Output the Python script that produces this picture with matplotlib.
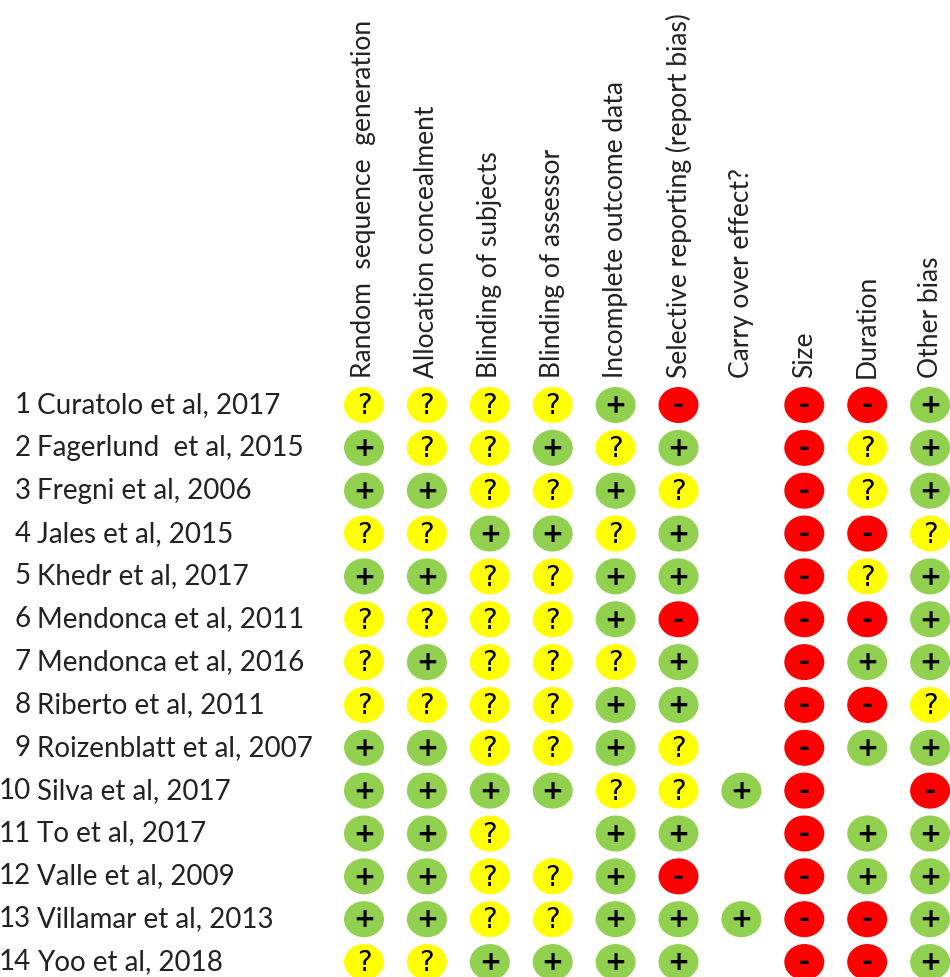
import matplotlib
matplotlib.use("Agg")
import matplotlib.pyplot as plt
from matplotlib.patches import Ellipse

# Risk of bias table
domains = [
    "Random  sequence  generation",
    "Allocation concealment",
    "Blinding of subjects",
    "Blinding of assessor",
    "Incomplete outcome data",
    "Selective reporting (report bias)",
    "Carry over effect?",
    "Size",
    "Duration",
    "Other bias",
]

studies = [
    "Curatolo et al, 2017",
    "Fagerlund  et al, 2015",
    "Fregni et al, 2006",
    "Jales et al, 2015",
    "Khedr et al, 2017",
    "Mendonca et al, 2011",
    "Mendonca et al, 2016",
    "Riberto et al, 2011",
    "Roizenblatt et al, 2007",
    "Silva et al, 2017",
    "To et al, 2017",
    "Valle et al, 2009",
    "Villamar et al, 2013",
    "Yoo et al, 2018",
]

# "+" low risk, "?" unclear, "-" high risk, "" not reported
ratings = [
    ["?", "?", "?", "?", "+", "-", "", "-", "-", "+"],
    ["+", "?", "?", "+", "?", "+", "", "-", "?", "+"],
    ["+", "+", "?", "?", "+", "?", "", "-", "?", "+"],
    ["?", "?", "+", "+", "?", "+", "", "-", "-", "?"],
    ["+", "+", "?", "?", "+", "+", "", "-", "?", "+"],
    ["?", "?", "?", "?", "+", "-", "", "-", "-", "+"],
    ["?", "+", "?", "?", "?", "+", "", "-", "+", "+"],
    ["?", "?", "?", "?", "+", "+", "", "-", "-", "?"],
    ["+", "+", "?", "?", "+", "?", "", "-", "+", "+"],
    ["+", "+", "+", "+", "?", "?", "+", "-", "", "-"],
    ["+", "+", "?", "", "+", "+", "", "-", "+", "+"],
    ["+", "+", "?", "?", "+", "-", "", "-", "+", "+"],
    ["+", "+", "?", "?", "+", "+", "+", "-", "-", "+"],
    ["?", "?", "+", "+", "+", "+", "", "-", "-", "+"],
]

colors = {"+": "#92D050", "?": "#FFFF00", "-": "#FF0000"}

plt.rcParams["font.family"] = ["Lato", "DejaVu Sans"]

W, H = 950, 977
fig = plt.figure(figsize=(W / 100, H / 100), dpi=100)
ax = fig.add_axes([0, 0, 1, 1])

# pixel layout of the grid
x0, dx = 364, 62.9
y0, dy = 405, 42.85
ax.set_xlim(-x0 / dx, (W - x0) / dx)
ax.set_ylim((H - y0) / dy, -y0 / dy)
ax.axis("off")

ew, eh = 40 / dx, 36 / dy

for r, row in enumerate(ratings):
    for c, val in enumerate(row):
        if not val:
            continue
        ax.add_patch(Ellipse((c, r), ew, eh, facecolor=colors[val],
                             edgecolor="none"))
        ax.text(c, r + 0.03, val, ha="center", va="center",
                fontsize=20 if val == "?" else 19,
                fontweight="bold" if val != "?" else "normal",
                family="DejaVu Sans", color="black")

for r, name in enumerate(studies):
    ax.text((31 - x0) / dx, r, str(r + 1), ha="right", va="center",
            fontsize=20, color="#222222")
    ax.text((37 - x0) / dx, r, name, ha="left", va="center",
            fontsize=20, color="#222222")

for c, d in enumerate(domains):
    ax.text(c, (378 - y0) / dy, d, rotation=90, ha="center", va="bottom",
            fontsize=19, color="#222222")

fig.savefig("out.png", dpi=100, facecolor="white")
